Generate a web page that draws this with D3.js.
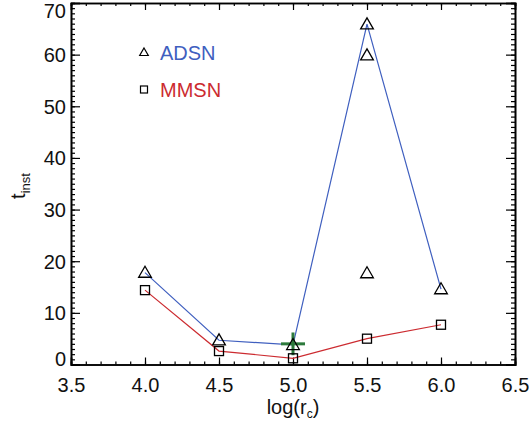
<!DOCTYPE html>
<html>
<head>
<meta charset="utf-8">
<script src="https://cdn.jsdelivr.net/npm/d3@7"></script>
<style>
  body { margin: 0; background: #fff; }
  svg { display: block; font-family: "Liberation Sans", Arial, sans-serif; }
</style>
</head>
<body>
<svg id="chart" width="532" height="427"></svg>
<script>
// data
var adsnX = [4.0, 4.5, 5.0, 5.5, 6.0];
var adsnY = [17.8, 4.7, 3.8, 65.9, 14.6];
var adsnExtraX = [5.5, 5.5];
var adsnExtraY = [59.9, 17.7];
var mmsnX = [4.0, 4.5, 5.0, 5.5, 6.0];
var mmsnY = [14.4, 2.6, 1.2, 5.0, 7.7];
var crossX = [5.0];
var crossY = [4.0];
var crossErr = [2.2];
var xTicks = [3.5, 4.0, 4.5, 5.0, 5.5, 6.0, 6.5];
var yTicks = [0, 10, 20, 30, 40, 50, 60, 70];
var legendNames = ["ADSN", "MMSN"];

var svg = d3.select("#chart");
var padL = 71, padR = 515, padT = 3, padB = 364.5;

var x = d3.scaleLinear().domain([3.5, 6.5]).range([padL, padR]);
var y = d3.scaleLinear().domain([0, 70]).range([padB, padT]);

var blue = "#3f5fbf", red = "#cc2b30", green = "#2d7a3c";
var fs = 20;

// minor + major ticks on all four sides, pointing inward
var xMinor = d3.range(35, 66).map(function(d) { return d / 10; });
var yMinor = d3.range(0, 71);

function drawAxis(axis, tr) {
  var g = svg.append("g").attr("transform", tr).call(axis);
  g.select(".domain").attr("stroke-width", 1.6).attr("stroke", "#000");
  g.selectAll(".tick line").attr("stroke-width", 1.2);
  return g;
}

drawAxis(d3.axisBottom(x).tickValues(xMinor).tickSize(-3).tickFormat(""), "translate(0," + padB + ")");
drawAxis(d3.axisTop(x).tickValues(xMinor).tickSize(-3).tickFormat(""), "translate(0," + padT + ")");
drawAxis(d3.axisLeft(y).tickValues(yMinor).tickSize(-4).tickFormat(""), "translate(" + padL + ",0)");
drawAxis(d3.axisRight(y).tickValues(yMinor).tickSize(-4).tickFormat(""), "translate(" + padR + ",0)");

var xb = drawAxis(d3.axisBottom(x).tickValues(xTicks).tickSize(-7).tickPadding(13).tickFormat(d3.format(".1f")), "translate(0," + padB + ")");
drawAxis(d3.axisTop(x).tickValues(xTicks).tickSize(-7).tickFormat(""), "translate(0," + padT + ")");
var yl = drawAxis(d3.axisLeft(y).tickValues(yTicks).tickSize(-9).tickPadding(5).tickFormat(d3.format("d")), "translate(" + padL + ",0)");
drawAxis(d3.axisRight(y).tickValues(yTicks).tickSize(-9).tickFormat(""), "translate(" + padR + ",0)");

xb.selectAll("text").attr("font-size", fs).attr("fill", "#111").attr("font-family", "Liberation Sans, Arial, sans-serif");
yl.selectAll("text").attr("font-size", fs).attr("fill", "#111").attr("font-family", "Liberation Sans, Arial, sans-serif")
  .attr("dy", function(d) {
    // end labels are nudged to stay inside the frame
    if (d == 0) return "0.05em";
    if (d == 70) return "0.7em";
    return "0.35em";
  });

// axis titles
var xt = svg.append("text").attr("x", 293).attr("y", 414).attr("text-anchor", "middle")
  .attr("font-size", fs).attr("fill", "#111");
xt.append("tspan").text("log(r");
xt.append("tspan").text("c").attr("font-size", 12).attr("dy", 4);
xt.append("tspan").text(")").attr("dy", -4);

var yt = svg.append("text").attr("transform", "translate(25,186) rotate(-90)")
  .attr("text-anchor", "middle").attr("font-size", fs).attr("fill", "#111");
yt.append("tspan").text("t");
yt.append("tspan").text("inst").attr("font-size", 13).attr("dy", 5);

// lines
var line = d3.line().x(function(d) { return x(d[0]); }).y(function(d) { return y(d[1]); });
var adsn = d3.zip(adsnX, adsnY);
var mmsn = d3.zip(mmsnX, mmsnY);

svg.append("path").datum(adsn).attr("d", line).attr("fill", "none").attr("stroke", blue).attr("stroke-width", 1.2);
svg.append("path").datum(mmsn).attr("d", line).attr("fill", "none").attr("stroke", red).attr("stroke-width", 1.2);

// green cross
var cross = d3.zip(crossX, crossY, crossErr);
svg.selectAll(".cv").data(cross).enter().append("line")
  .attr("x1", function(d) { return x(d[0]); }).attr("x2", function(d) { return x(d[0]); })
  .attr("y1", function(d) { return y(d[1] + d[2]); }).attr("y2", function(d) { return y(d[1] - d[2]); })
  .attr("stroke", green).attr("stroke-width", 3);
svg.selectAll(".ch").data(cross).enter().append("line")
  .attr("x1", function(d) { return x(d[0]) - 12; }).attr("x2", function(d) { return x(d[0]) + 12; })
  .attr("y1", function(d) { return y(d[1]); }).attr("y2", function(d) { return y(d[1]); })
  .attr("stroke", green).attr("stroke-width", 3);

// markers
var tri = d3.symbol().type(d3.symbolTriangle).size(70);
var allTri = adsn.concat(d3.zip(adsnExtraX, adsnExtraY));
svg.selectAll(".tri").data(allTri).enter().append("path")
  .attr("d", tri)
  .attr("transform", function(d) { return "translate(" + x(d[0]) + "," + (y(d[1]) + 1) + ")"; })
  .attr("fill", "none").attr("stroke", "#000").attr("stroke-width", 1.3);

svg.selectAll(".sq").data(mmsn).enter().append("rect")
  .attr("x", function(d) { return x(d[0]) - 4.5; }).attr("y", function(d) { return y(d[1]) - 4.5; })
  .attr("width", 9).attr("height", 9)
  .attr("fill", "none").attr("stroke", "#000").attr("stroke-width", 1.3);

// legend
var lg = svg.append("g");
lg.append("path").attr("d", d3.symbol().type(d3.symbolTriangle).size(32))
  .attr("transform", "translate(144,53)").attr("fill", "none").attr("stroke", "#000").attr("stroke-width", 1.2);
lg.append("rect").attr("x", 140.5).attr("y", 86).attr("width", 7).attr("height", 7)
  .attr("fill", "none").attr("stroke", "#000").attr("stroke-width", 1.2);
lg.selectAll("text").data(legendNames).enter().append("text")
  .attr("x", 160).attr("y", function(d, i) { return 60 + i * 37; })
  .attr("font-size", fs)
  .attr("fill", function(d, i) { return i == 0 ? blue : red; })
  .text(function(d) { return d; });
</script>
</body>
</html>
